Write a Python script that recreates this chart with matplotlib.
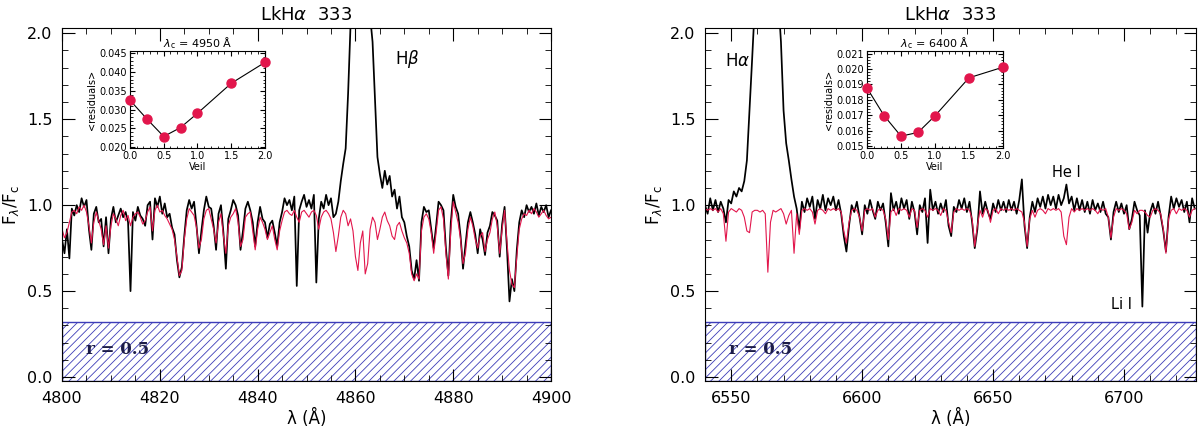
import matplotlib

matplotlib.use("Agg")
import matplotlib.pyplot as plt
import numpy as np
from matplotlib.ticker import MultipleLocator, FormatStrFormatter

plt.rcParams["font.family"] = ["DejaVu Sans"]
plt.rcParams["hatch.linewidth"] = 0.6
plt.rcParams["hatch.color"] = "#4646b4"

# ---- H-beta window: sampled every 0.5 A from 4800 to 4900 ----
hb_start, hb_step = 4800.0, 0.5
hb_template = [
    0.86, 0.81, 0.84, 0.90, 0.96, 0.97, 0.95, 0.99, 0.97, 1.00,
    0.96, 0.88, 0.78, 0.90, 0.96, 0.91, 0.86, 0.77, 0.88, 0.75,
    0.88, 0.95, 0.92, 0.88, 0.94, 0.97, 0.91, 0.94, 0.88, 0.93,
    0.95, 0.96, 0.93, 0.89, 0.91, 0.96, 0.99, 0.85, 0.97, 1.00,
    0.96, 0.97, 0.94, 0.92, 0.89, 0.86, 0.80, 0.70, 0.59, 0.62,
    0.80, 0.92, 0.98, 0.96, 0.94, 0.87, 0.75, 0.80, 0.92, 0.97,
    0.98, 0.92, 0.86, 0.78, 0.90, 0.95, 0.82, 0.72, 0.88, 0.93,
    0.95, 0.98, 0.90, 0.76, 0.80, 0.93, 0.95, 0.96, 0.85, 0.74,
    0.86, 0.93, 0.90, 0.86, 0.80, 0.84, 0.88, 0.80, 0.74, 0.85,
    0.91, 0.96, 0.97, 0.95, 0.94, 0.97, 0.93, 0.90, 0.96, 0.97,
    0.95, 0.93, 0.96, 0.97, 0.94, 0.86, 0.93, 0.96, 0.97, 0.95,
    0.92, 0.84, 0.73, 0.82, 0.93, 0.97, 0.95, 0.88, 0.92, 0.85,
    0.70, 0.62, 0.78, 0.85, 0.60, 0.66, 0.86, 0.93, 0.90, 0.80,
    0.86, 0.93, 0.96, 0.91, 0.88, 0.82, 0.80, 0.88, 0.90, 0.85,
    0.81, 0.78, 0.72, 0.60, 0.56, 0.60, 0.57, 0.85, 0.93, 0.95,
    0.92, 0.84, 0.72, 0.84, 0.97, 0.99, 0.92, 0.72, 0.57, 0.85,
    1.02, 0.96, 0.90, 0.80, 0.66, 0.72, 0.86, 0.93, 0.88, 0.80,
    0.75, 0.82, 0.84, 0.73, 0.80, 0.84, 0.92, 0.96, 0.88, 0.72,
    0.86, 0.97, 0.78, 0.62, 0.54, 0.52, 0.70, 0.86, 0.92, 0.95,
    0.94, 0.97, 0.95, 0.98, 0.96, 0.93, 0.95, 0.97, 0.94, 0.92,
    0.93,
]
hb_observed = [
    0.80, 0.72, 0.86, 0.69, 0.98, 0.94, 1.00, 0.96, 1.04, 0.99,
    1.03, 0.86, 0.74, 0.95, 0.99, 0.90, 0.92, 0.76, 0.93, 0.72,
    0.92, 0.99, 0.90, 0.94, 0.98, 0.93, 0.96, 0.90, 0.50, 0.96,
    0.91, 0.99, 0.94, 0.92, 0.88, 1.00, 1.02, 0.80, 1.04, 0.99,
    1.05, 0.95, 1.01, 0.93, 0.95, 0.87, 0.83, 0.68, 0.58, 0.64,
    0.82, 0.97, 1.03, 0.98, 1.02, 0.88, 0.72, 0.85, 0.97, 1.05,
    0.99, 0.98, 0.88, 0.74, 0.95, 1.00, 0.84, 0.63, 0.92, 0.97,
    1.03, 1.00, 0.94, 0.74, 0.85, 0.98, 1.02, 0.97, 0.90, 0.76,
    0.90, 0.99, 0.92, 0.90, 0.81, 0.89, 0.91, 0.84, 0.76, 0.90,
    0.96, 1.04, 1.00, 1.03, 0.97, 1.05, 0.53, 0.97, 1.02, 1.06,
    0.99, 1.03, 0.98, 1.06, 0.55, 0.92, 1.02, 0.98, 1.06, 1.00,
    1.04, 0.93, 0.95, 1.02, 1.14, 1.24, 1.33, 1.65, 2.05, 2.40,
    2.60, 2.70, 2.75, 2.70, 2.60, 2.40, 2.10, 1.95, 1.62, 1.28,
    1.18, 1.10, 1.20, 1.12, 1.17, 1.05, 1.09, 0.98, 1.05, 0.93,
    0.90, 0.82, 0.76, 0.62, 0.57, 0.68, 0.56, 0.90, 0.99, 0.96,
    0.97, 0.86, 0.75, 0.88, 1.02, 1.00, 0.97, 0.75, 0.59, 0.90,
    1.06, 0.99, 0.95, 0.82, 0.63, 0.77, 0.90, 0.96, 0.90, 0.83,
    0.72, 0.86, 0.80, 0.71, 0.84, 0.88, 0.96, 0.94, 0.91, 0.70,
    0.89, 0.99, 0.74, 0.44, 0.57, 0.50, 0.74, 0.90, 0.97, 0.93,
    1.00, 0.96, 0.99, 0.95, 1.01, 0.94, 0.99, 0.96, 1.00, 0.93,
    0.97,
]

# ---- H-alpha window: sampled every 1 A from 6540 to 6727 ----
ha_start, ha_step = 6540.0, 1.0
ha_template = [
    0.98, 0.97, 0.98, 0.97, 0.98, 0.96, 0.98, 0.95, 0.79, 0.96,
    0.98, 0.97, 0.96, 0.98, 0.97, 0.93, 0.85, 0.84, 0.96, 0.97,
    0.97, 0.96, 0.97, 0.95, 0.61, 0.90, 0.97, 0.96, 0.97, 0.98,
    0.95, 0.89, 0.94, 0.97, 0.72, 0.95, 0.83, 0.97, 0.98, 0.97,
    0.98, 0.96, 0.89, 0.97, 0.98, 0.97, 0.95, 0.98, 0.97, 0.98,
    0.97, 0.98, 0.96, 0.85, 0.78, 0.90, 0.97, 0.98, 0.97, 0.93,
    0.85, 0.97, 0.98, 0.97, 0.98, 0.93, 0.97, 0.98, 0.97, 0.92,
    0.80, 0.96, 0.98, 0.94, 0.98, 0.97, 0.98, 0.97, 0.93, 0.98,
    0.97, 0.87, 0.97, 0.98, 0.97, 0.93, 0.98, 0.97, 0.98, 0.97,
    0.94, 0.98, 0.97, 0.90, 0.84, 0.96, 0.98, 0.97, 0.98, 0.97,
    0.98, 0.97, 0.92, 0.76, 0.88, 0.97, 0.93, 0.98, 0.97, 0.90,
    0.97, 0.98, 0.95, 0.98, 0.97, 0.98, 0.97, 0.98, 0.97, 0.98,
    0.97, 0.96, 0.90, 0.76, 0.92, 0.97, 0.93, 0.97, 0.98, 0.97,
    0.95, 0.98, 0.97, 0.98, 0.97, 0.98, 0.96, 0.82, 0.77, 0.93,
    0.98, 0.96, 0.98, 0.97, 0.98, 0.97, 0.98, 0.97, 0.98, 0.97,
    0.95, 0.98, 0.97, 0.98, 0.93, 0.81, 0.93, 0.98, 0.97, 0.98,
    0.97, 0.95, 0.86, 0.90, 0.97, 0.95, 0.97, 0.97, 0.96, 0.94,
    0.93, 0.97, 0.98, 0.97, 0.95, 0.86, 0.72, 0.92, 0.97, 0.98,
    0.95, 0.98, 0.97, 0.98, 0.97, 0.93, 0.97, 0.98,
]
ha_observed = [
    1.00, 0.95, 1.04, 0.97, 1.03, 0.96, 1.02, 0.98, 0.90, 1.03,
    1.01, 1.08, 1.05, 1.10, 1.08, 1.14, 1.26, 1.55, 1.85, 2.15,
    2.50, 2.80, 3.00, 3.10, 3.00, 2.90, 2.70, 2.50, 2.20, 1.95,
    1.55, 1.36, 1.26, 1.15, 1.05, 0.98, 0.86, 1.02, 0.96, 1.04,
    0.99, 1.05, 0.92, 1.03, 0.98, 1.06, 0.97, 1.04, 1.00, 1.05,
    0.97, 1.03, 0.95, 0.82, 0.73, 0.88, 1.00, 0.96, 1.02, 0.93,
    0.83, 1.00, 0.95, 1.03, 0.97, 0.92, 1.02, 0.97, 1.01, 0.90,
    0.76, 1.07, 0.97, 1.02, 0.95, 1.04, 0.98, 1.03, 0.92, 1.02,
    0.96, 0.83, 1.00, 0.96, 1.04, 0.78, 1.09, 0.97, 1.02, 0.95,
    1.01, 0.96, 1.03, 0.88, 0.82, 0.99, 0.96, 1.03, 0.98, 1.04,
    0.96, 1.02, 0.90, 0.75, 0.86, 1.08, 0.95, 1.02, 0.96, 0.92,
    1.01, 0.96, 1.03, 0.97, 1.02, 0.96, 1.03, 0.97, 1.02, 0.95,
    1.03, 1.15, 0.88, 0.75, 0.93, 1.02, 0.96, 1.04, 0.99, 1.05,
    0.98, 1.06, 1.00, 1.05, 0.98, 1.06, 1.00, 1.04, 1.12, 1.01,
    1.05, 0.97, 1.04, 0.97, 1.03, 0.96, 1.02, 0.95, 1.03, 0.97,
    1.01, 0.96, 1.02, 0.95, 0.93, 0.80, 0.96, 1.02, 0.96, 1.01,
    0.95, 1.00, 0.86, 0.92, 1.02, 0.97, 0.94, 0.41, 0.97, 0.84,
    0.96, 1.01, 0.95, 1.02, 0.94, 0.85, 0.73, 0.93, 1.05, 0.98,
    1.04, 0.99, 1.03, 0.96, 1.02, 0.90, 1.04, 0.98,
]

# ---- veiling fits (insets) ----
veil = [0.0, 0.25, 0.5, 0.75, 1.0, 1.5, 2.0]
resid_4950 = [0.0325, 0.0275, 0.0228, 0.0252, 0.0290, 0.0370, 0.0426]
resid_6400 = [0.01877, 0.01698, 0.01564, 0.01588, 0.01696, 0.01943, 0.02012]

OBS_COLOR = "black"
TPL_COLOR = "#e2164c"
HATCH_BLUE = "#3d3db8"
YLIM = (-0.023, 2.03)
VEIL_LEVEL = 0.32


def draw_spectrum(ax, start, step, observed, template, xlim, major, minor):
    wave = start + step * np.arange(len(observed))
    ax.plot(wave, observed, color=OBS_COLOR, lw=1.25)
    ax.plot(wave, template, color=TPL_COLOR, lw=0.8)
    ax.axhspan(YLIM[0], VEIL_LEVEL, facecolor="none", edgecolor=HATCH_BLUE,
               hatch="////", lw=1.0)
    ax.text(0.048, 0.16, "r = 0.5", transform=ax.get_yaxis_transform(),
            family="DejaVu Serif", fontsize=12, fontweight="bold",
            color="#1c1c48", va="center")
    ax.set_xlim(*xlim)
    ax.set_ylim(*YLIM)
    ax.xaxis.set_major_locator(MultipleLocator(major))
    ax.xaxis.set_minor_locator(MultipleLocator(minor))
    ax.yaxis.set_major_locator(MultipleLocator(0.5))
    ax.yaxis.set_minor_locator(MultipleLocator(0.1))
    ax.yaxis.set_major_formatter(FormatStrFormatter("%.1f"))
    ax.tick_params(which="both", direction="in", top=True, right=True,
                   labelsize=11.5, pad=7)
    ax.tick_params(which="major", length=9)
    ax.tick_params(which="minor", length=4.5)
    ax.set_title("LkH$\\alpha$  333", fontsize=13, pad=6)
    ax.set_xlabel("λ (Å)", fontsize=12, labelpad=2)
    ax.set_ylabel(r"$\mathrm{F}_\lambda/\mathrm{F}_\mathrm{c}$", fontsize=12,
                  labelpad=4)


def draw_inset(ax, resid, ylim, ymajor, yminor, lam):
    ax.plot(veil, resid, color="black", lw=0.8, zorder=2)
    ax.plot(veil, resid, "o", color=TPL_COLOR, ms=6.5, mec=TPL_COLOR,
            zorder=3, clip_on=False)
    ax.set_xlim(0, 2)
    ax.set_ylim(*ylim)
    ax.xaxis.set_major_locator(MultipleLocator(0.5))
    ax.xaxis.set_minor_locator(MultipleLocator(0.1))
    ax.yaxis.set_major_locator(MultipleLocator(ymajor))
    ax.yaxis.set_minor_locator(MultipleLocator(yminor))
    ax.xaxis.set_major_formatter(FormatStrFormatter("%.1f"))
    ax.yaxis.set_major_formatter(FormatStrFormatter("%.3f"))
    ax.tick_params(which="both", direction="in", top=True, right=True,
                   labelsize=7, pad=2)
    ax.tick_params(which="major", length=3.5)
    ax.tick_params(which="minor", length=1.8)
    ax.set_xlabel("Veil", fontsize=7, labelpad=1)
    ax.set_ylabel("<residuals>", fontsize=7, labelpad=2)
    ax.set_title(r"$\lambda_\mathrm{c}$ = %d Å" % lam, fontsize=8, pad=2)


fig = plt.figure(figsize=(12, 4.32), dpi=100)

ax_b = fig.add_axes([0.0517, 0.118, 0.4075, 0.817])
draw_spectrum(ax_b, hb_start, hb_step, hb_observed, hb_template,
              (4800, 4900), 20, 5)
ax_b.text(4868.1, 1.85, r"H$\beta$", fontsize=12, va="center")

ax_a = fig.add_axes([0.5875, 0.118, 0.4092, 0.817])
draw_spectrum(ax_a, ha_start, ha_step, ha_observed, ha_template,
              (6540, 6727.5), 50, 10)
ax_a.text(6547.6, 1.84, r"H$\alpha$", fontsize=12, va="center")
ax_a.text(6672.6, 1.19, "He I", fontsize=10.5, va="center")
ax_a.text(6695.0, 0.42, "Li I", fontsize=10.5, va="center")

ins_b = fig.add_axes([0.1083, 0.6574, 0.1125, 0.2245])
draw_inset(ins_b, resid_4950, (0.01973, 0.04563), 0.005, 0.001, 4950)

ins_a = fig.add_axes([0.7225, 0.6574, 0.1133, 0.2245])
draw_inset(ins_a, resid_6400, (0.01487, 0.02117), 0.001, 0.0002, 6400)

fig.savefig("out.png", dpi=100)
